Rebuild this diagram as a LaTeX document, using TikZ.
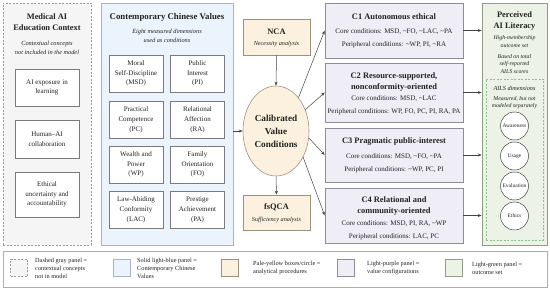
\documentclass[tikz,border=0pt]{standalone}
\usepackage{fontspec}
\setmainfont{Liberation Serif}
\usetikzlibrary{shapes.geometric,arrows.meta}
\definecolor{grayfill}{HTML}{F5F5F5}
\definecolor{grayline}{HTML}{9A9A9A}
\definecolor{bluefill}{HTML}{EBF4FC}
\definecolor{blueline}{HTML}{A8B4C0}
\definecolor{yelfill}{HTML}{FBF1DE}
\definecolor{yelline}{HTML}{9C9280}
\definecolor{purfill}{HTML}{EFEDF5}
\definecolor{purline}{HTML}{8C8C96}
\definecolor{grnfill}{HTML}{ECF3E6}
\definecolor{grnline}{HTML}{8E9C88}
\definecolor{grndash}{HTML}{8CC08C}
\definecolor{boxline}{HTML}{7A7A7A}
\definecolor{txt}{HTML}{222222}
\definecolor{arrcol}{HTML}{444444}
\begin{document}
\begin{tikzpicture}[x=1pt,y=-1pt,
  every node/.style={text=txt},
  gpanel/.style={draw=grayline,fill=grayfill,dash pattern=on 2pt off 1.5pt,line width=0.6pt,minimum width=#1,inner sep=0},
  panel/.style={draw=#1,line width=0.6pt,inner sep=0},
  wbox/.style={draw=boxline,fill=white,line width=0.5pt,inner sep=0,align=center,font=\fontsize{7}{9.8}\selectfont},
  ttl/.style={inner sep=0,align=center,font=\fontsize{8.4}{11}\selectfont\bfseries},
  sub/.style={inner sep=0,align=center,font=\fontsize{6.3}{9.5}\selectfont\itshape},
  body/.style={inner sep=0,align=center,font=\fontsize{7}{13}\selectfont},
  ybox/.style={draw=yelline,fill=yelfill,line width=0.6pt,inner sep=0,minimum width=67pt},
  cbox/.style={draw=purline,fill=purfill,line width=0.6pt,inner sep=0,minimum width=138pt},
  dim/.style={circle,draw=arrcol,fill=white,line width=0.5pt,minimum size=28pt,inner sep=0,font=\fontsize{5.5}{6}\selectfont},
  arr/.style={draw=arrcol,line width=0.5pt,-{Stealth[length=4pt,width=3pt]}},
  icon/.style={minimum width=17pt,minimum height=17pt,inner sep=0,line width=0.5pt},
  leg/.style={inner sep=0,anchor=west,align=left,font=\fontsize{6.3}{8}\selectfont}
]
\useasboundingbox (0,0) rectangle (550,291);

% ---------- left panel ----------
\node[gpanel=88pt,minimum height=242pt] (ctx) at (47,124) {};
\node[ttl] (ctxT) at (47,22.5) {Medical AI\\Education Context};
\node[sub] (ctxS) at (47,48) {Contextual concepts\\not included in the model};
\node[wbox,minimum width=64pt,minimum height=37pt] (a1) at (47,87.5) {AI exposure in\\learning};
\node[wbox,minimum width=64pt,minimum height=38pt] (a2) at (47,139) {Human--AI\\collaboration};
\node[wbox,minimum width=64pt,minimum height=45pt] (a3) at (47,194.5) {Ethical\\uncertainty and\\accountability};

% ---------- blue panel ----------
\node[panel=blueline,fill=bluefill,minimum width=132pt,minimum height=242pt] (cv) at (167,124) {};
\node[ttl,font=\fontsize{8.8}{11}\selectfont\bfseries] (cvT) at (167,17) {Contemporary Chinese Values};
\node[sub] (cvS) at (167,36) {Eight measured dimensions\\used as conditions};
\tikzset{gbox/.style={wbox,minimum width=54pt,minimum height=37pt}}
\node[gbox] (msd) at (136,73.5) {Moral\\Self-Discipline\\(MSD)};
\node[gbox] (pi)  at (197.5,73.5) {Public\\Interest\\(PI)};
\node[gbox] (pc)  at (136,120) {Practical\\Competence\\(PC)};
\node[gbox] (ra)  at (197.5,120) {Relational\\Affection\\(RA)};
\node[gbox] (wp)  at (136,164.5) {Wealth and\\Power\\(WP)};
\node[gbox] (fo)  at (197.5,164.5) {Family\\Orientation\\(FO)};
\node[gbox] (lac) at (136,210) {Law-Abiding\\Conformity\\(LAC)};
\node[gbox] (pa)  at (197.5,210) {Prestige\\Achievement\\(PA)};

% ---------- analysis ----------
\node[ybox,minimum height=36pt] (nca) at (276.5,37) {};
\node[ttl] (ncaT) at (276.5,32) {NCA};
\node[sub,font=\fontsize{6.2}{8}\selectfont\itshape] (ncaS) at (276.5,44) {Necessity analysis};
\node[ellipse,draw=yelline,fill=yelfill,line width=0.6pt,minimum width=66pt,minimum height=90pt,inner sep=0,align=center,font=\fontsize{9.2}{13}\selectfont\bfseries] (ell) at (276,131) {Calibrated\\Value\\Conditions};
\node[ybox,minimum height=35pt] (fs) at (276.5,212.5) {};
\node[ttl] (fsT) at (276.5,207.5) {fsQCA};
\node[sub,font=\fontsize{6.2}{8}\selectfont\itshape] (fsS) at (276.5,220) {Sufficiency analysis};

% ---------- configurations ----------
\node[cbox,minimum height=55pt] (c1) at (394,30.5) {};
\node[ttl] (c1t) at (394,17) {C1 Autonomous ethical};
\node[body] (c1b) at (394,38.5) {Core conditions: MSD, \textasciitilde FO, \textasciitilde LAC, \textasciitilde PA\\Peripheral conditions: \textasciitilde WP, PI, \textasciitilde RA};
\node[cbox,minimum height=59pt] (c2) at (394,92.5) {};
\node[ttl] (c2t) at (394,82) {C2 Resource-supported,\\nonconformity-oriented};
\node[body] (c2b) at (394,105.5) {Core conditions: MSD, \textasciitilde LAC\\Peripheral conditions: WP, FO, PC, PI, RA, PA};
\node[cbox,minimum height=54pt] (c3) at (394,155) {};
\node[ttl] (c3t) at (394,142) {C3 Pragmatic public-interest};
\node[body] (c3b) at (394,163.5) {Core conditions: MSD, \textasciitilde FO, \textasciitilde PA\\Peripheral conditions: \textasciitilde WP, PC, PI};
\node[cbox,minimum height=55pt] (c4) at (394,215.5) {};
\node[ttl] (c4t) at (394,205.5) {C4 Relational and\\community-oriented};
\node[body] (c4b) at (394,230) {Core conditions: MSD, PI, RA, \textasciitilde WP\\Peripheral conditions: LAC, PC};

% ---------- outcome ----------
\node[panel=grnline,fill=grnfill,minimum width=65pt,minimum height=242pt] (gr) at (514.5,124) {};
\node[ttl] (grT) at (514.5,20.5) {Perceived\\AI Literacy};
\node[sub,font=\fontsize{5.8}{8}\selectfont\itshape] (grS1) at (514.5,42) {High-membership\\outcome set};
\node[sub,font=\fontsize{5.8}{7.3}\selectfont\itshape] (grS2) at (514.5,64) {Based on total\\self-reported\\AILS scores};
\node[draw=grndash,dash pattern=on 2pt off 1.5pt,line width=0.6pt,minimum width=57pt,minimum height=161pt,inner sep=0] (ails) at (514.5,159.5) {};
\node[sub,font=\fontsize{6.2}{8}\selectfont\itshape] (ailsT) at (514.5,88) {AILS dimensions};
\node[sub,font=\fontsize{5.8}{7.3}\selectfont\itshape] (ailsS) at (514.5,102.5) {Measured, but not\\modeled separately};
\node[dim] (aw) at (514.5,126) {Awareness};
\node[dim] (us) at (514.5,156) {Usage};
\node[dim] (ev) at (514.5,186) {Evaluation};
\node[dim] (et) at (514.5,216) {Ethics};

% ---------- connectors ----------
\draw[arr] (cv.east |- ell.center) -- (ell.west);
\draw[arr] (nca.south) -- (ell.north);
\draw[arr] (ell.south) -- (fs.north);
\draw[arr] (ell.56) -- (c1.west);
\draw[arr] (ell.36) -- (c2.west);
\draw[arr] (ell.-12) -- (c3.west);
\draw[arr] (ell.-44) -- (c4.west);
\draw[arr] (c1.east) -- (c1.east -| gr.west);
\draw[arr] (c2.east) -- (c2.east -| gr.west);
\draw[arr] (c3.east) -- (c3.east -| gr.west);
\draw[arr] (c4.east) -- (c4.east -| gr.west);

% ---------- legend ----------
\node[draw=grayline!80,fill=white,line width=0.6pt,minimum width=544pt,minimum height=36pt,inner sep=0] (lg) at (275,269) {};
\node[icon,draw=grayline,fill=grayfill,dash pattern=on 2pt off 1.5pt] (i1) at (19,268) {};
\node[leg] (l1) at (35,268) {Dashed gray panel =\\contextual concepts\\not in model};
\node[icon,draw=blueline,fill=bluefill] (i2) at (122,268) {};
\node[leg] (l2) at (137,268) {Solid light-blue panel =\\Contemporary Chinese\\Values};
\node[icon,draw=yelline,fill=yelfill] (i3) at (229.5,268) {};
\node[leg] (l3) at (253,268) {Pale-yellow boxes/circle =\\analytical procedures};
\node[icon,draw=purline,fill=purfill] (i4) at (345.5,268) {};
\node[leg] (l4) at (367,268) {Light-purple panel =\\value configurations};
\node[icon,draw=grnline,fill=grnfill] (i5) at (453.5,268) {};
\node[leg] (l5) at (472,268) {Light-green panel =\\outcome set};
\end{tikzpicture}
\end{document}
